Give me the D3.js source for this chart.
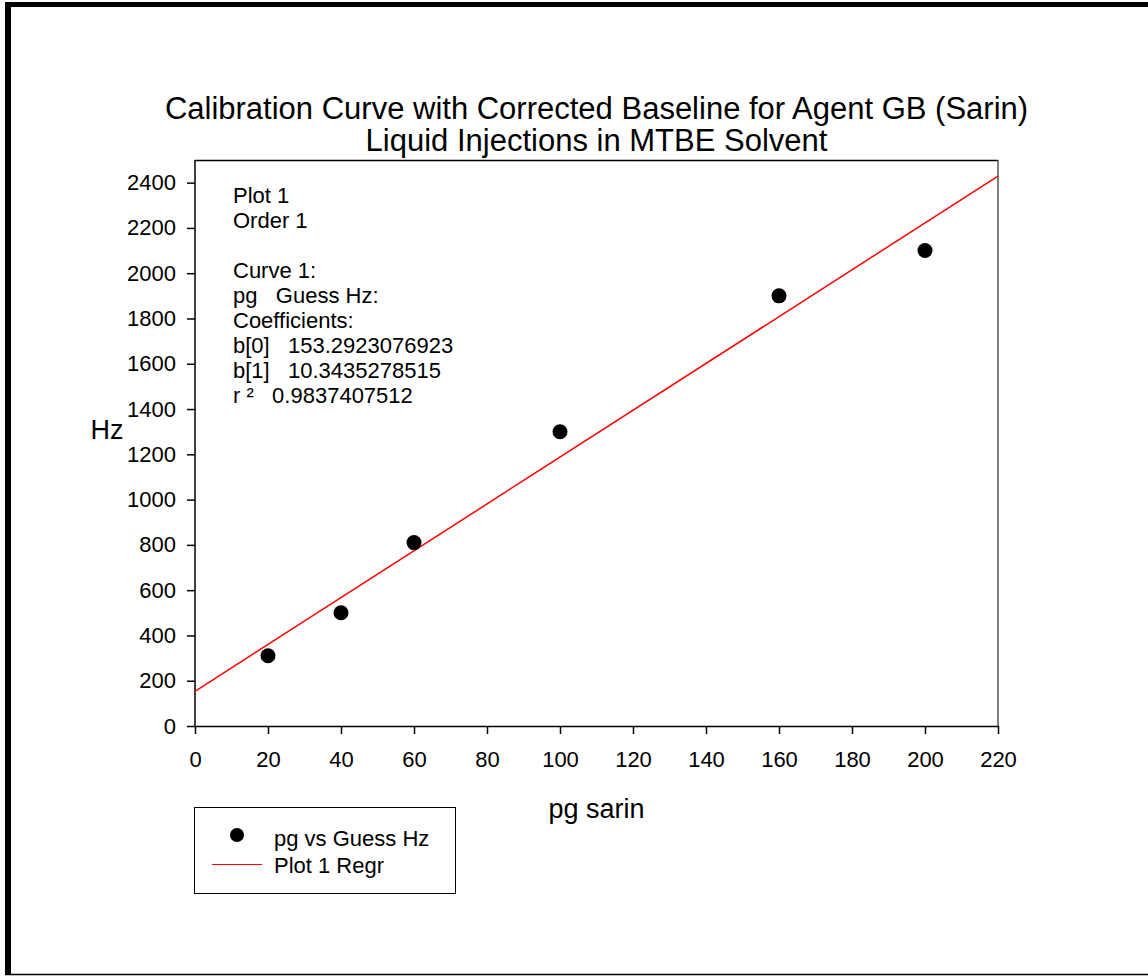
<!DOCTYPE html>
<html>
<head>
<meta charset="utf-8">
<script src="https://cdn.jsdelivr.net/npm/d3@7"></script>
<style>
  body { margin: 0; background: #fff; }
  svg { display: block; font-family: "Liberation Sans", Arial, sans-serif; }
</style>
</head>
<body>
<script>
// measured data: pg of sarin vs detector response (Hz)
const pgSarin = [20, 40, 60, 100, 160, 200];
const guessHz = [310, 500, 810, 1300, 1900, 2100];

// linear regression coefficients reported on the chart
const b0 = 153.2923076923;
const b1 = 10.3435278515;
const rSquared = 0.9837407512;

const xTicks = [0, 20, 40, 60, 80, 100, 120, 140, 160, 180, 200, 220];
const yTicks = [0, 200, 400, 600, 800, 1000, 1200, 1400, 1600, 1800, 2000, 2200, 2400];

const titleLines = [
  "Calibration Curve with Corrected Baseline for Agent GB (Sarin)",
  "Liquid Injections in MTBE Solvent"
];
const annotationLines = [
  "Plot 1", "Order 1", "", "Curve 1:", "pg   Guess Hz:", "Coefficients:",
  "b[0]   " + b0.toFixed(10),
  "b[1]   " + b1.toFixed(10),
  "r \u00B2   " + rSquared.toFixed(10)
];

/** svg size and plot box */
const width = 1148, height = 976;
const plot = { left: 195, right: 998, top: 160, bottom: 726 };

const svg = d3.select("body").append("svg")
  .attr("width", width)
  .attr("height", height);

// page frame (thick on the left and top)
svg.append("line").attr("x1", 8).attr("x2", 8).attr("y1", 2).attr("y2", 975)
  .attr("stroke", "#000").attr("stroke-width", 6);
svg.append("line").attr("x1", 5).attr("x2", width).attr("y1", 4.5).attr("y2", 4.5)
  .attr("stroke", "#000").attr("stroke-width", 5);
svg.append("line").attr("x1", 5).attr("x2", width).attr("y1", 974.5).attr("y2", 974.5)
  .attr("stroke", "#000").attr("stroke-width", 1.5);

const x = d3.scaleLinear().domain([0, 220]).range([plot.left, plot.right]);
const y = d3.scaleLinear().domain([0, 2500]).range([plot.bottom, plot.top]);

/** title */
const title = svg.append("g")
  .attr("transform", "translate(" + ((plot.left + plot.right) / 2) + ", 0)")
  .style("text-anchor", "middle");
title.selectAll("text")
  .data(titleLines)
  .enter()
  .append("text")
  .attr("y", (d, i) => 119 + i * 32)
  .style("font-size", "31px")
  .attr("fill", "#000")
  .text(d => d);

/** plot box: top black, right grey */
svg.append("line")
  .attr("x1", plot.left).attr("x2", plot.right)
  .attr("y1", plot.top + 0.5).attr("y2", plot.top + 0.5)
  .attr("stroke", "#000").attr("stroke-width", 1.5);
svg.append("line")
  .attr("x1", plot.right).attr("x2", plot.right)
  .attr("y1", plot.top).attr("y2", plot.bottom)
  .attr("stroke", "#555").attr("stroke-width", 1.5);

/** axes */
const xAxis = d3.axisBottom(x).tickValues(xTicks).tickSize(8).tickPadding(17)
  .tickSizeOuter(0).tickFormat(d3.format("d"));
const yAxis = d3.axisLeft(y).tickValues(yTicks).tickSize(8).tickPadding(11)
  .tickSizeOuter(0).tickFormat(d3.format("d"));

const gx = svg.append("g")
  .attr("transform", "translate(0," + plot.bottom + ")")
  .call(xAxis);
const gy = svg.append("g")
  .attr("transform", "translate(" + plot.left + ",0)")
  .call(yAxis);

[gx, gy].forEach(g => {
  g.attr("font-family", null).attr("font-size", null);
  g.select("path.domain").attr("stroke", "#000").attr("stroke-width", 1.5);
  g.selectAll(".tick line").attr("stroke", "#000").attr("stroke-width", 1.5);
  g.selectAll(".tick text")
    .attr("fill", "#000")
    .style("font-size", "22px");
});
// y domain extends to 2500 without a tick, so draw the full left line
gy.select("path.domain").attr("d", "M0," + plot.bottom + "V" + plot.top);

/** axis titles */
svg.append("text")
  .attr("x", 107).attr("y", 439)
  .style("text-anchor", "middle")
  .style("font-size", "27px")
  .text("Hz");
svg.append("text")
  .attr("x", (plot.left + plot.right) / 2).attr("y", 818)
  .style("text-anchor", "middle")
  .style("font-size", "27px")
  .text("pg sarin");

/** regression line */
svg.append("line")
  .attr("x1", x(0)).attr("y1", y(b0))
  .attr("x2", x(220)).attr("y2", y(b0 + b1 * 220))
  .attr("stroke", "#ff0000")
  .attr("stroke-width", 1.5);

/** data points */
svg.append("g")
  .selectAll("circle")
  .data(pgSarin.map((d, i) => [d, guessHz[i]]))
  .enter()
  .append("circle")
  .attr("cx", d => x(d[0]))
  .attr("cy", d => y(d[1]))
  .attr("r", 7.5)
  .attr("fill", "#000");

/** regression report */
svg.append("g")
  .selectAll("text")
  .data(annotationLines)
  .enter()
  .append("text")
  .attr("x", 233)
  .attr("y", (d, i) => 203 + i * 25)
  .style("font-size", "22px")
  .attr("xml:space", "preserve")
  .style("white-space", "pre")
  .text(d => d);

/** legend */
const legend = svg.append("g").attr("transform", "translate(194, 807)");
legend.append("rect")
  .attr("x", 0.5).attr("y", 0.5)
  .attr("width", 261).attr("height", 86)
  .attr("fill", "none")
  .attr("stroke", "#000")
  .attr("stroke-width", 1);
legend.append("circle")
  .attr("cx", 43).attr("cy", 28).attr("r", 7)
  .attr("fill", "#000");
legend.append("line")
  .attr("x1", 18).attr("x2", 68).attr("y1", 57.5).attr("y2", 57.5)
  .attr("stroke", "#ff0000").attr("stroke-width", 1.2);
legend.selectAll("text.label")
  .data(["pg vs Guess Hz", "Plot 1 Regr"])
  .enter()
  .append("text")
  .attr("class", "label")
  .attr("x", 80)
  .attr("y", (d, i) => 39 + i * 27)
  .style("font-size", "22px")
  .text(d => d);
</script>
</body>
</html>
